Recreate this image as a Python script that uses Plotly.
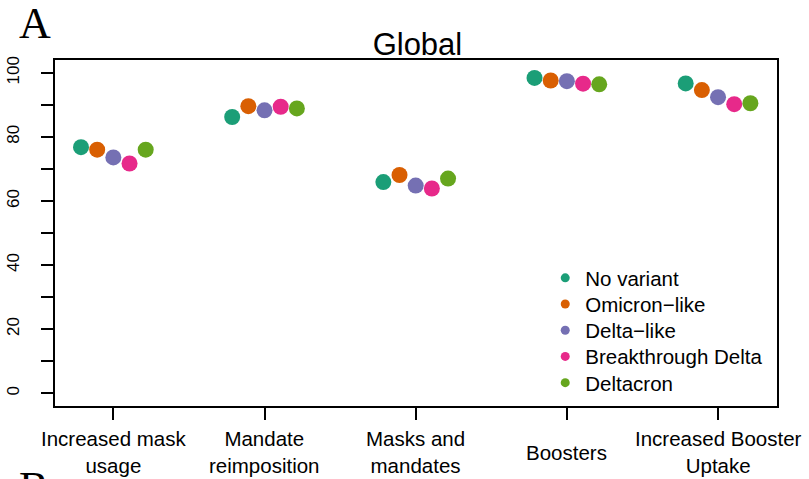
import plotly.graph_objects as go

categories = ["Increased mask<br>usage", "Mandate<br>reimposition", "Masks and<br>mandates",
              "Boosters", "Increased Booster<br>Uptake"]
series_names = ["No variant", "Omicron\u2212like", "Delta\u2212like", "Breakthrough Delta", "Deltacron"]
colors = ["#1B9E77", "#D95F02", "#7570B3", "#E7298A", "#66A61E"]

no_variant = [76.8, 86.2, 65.9, 98.4, 96.7]
omicron_like = [76.0, 89.6, 68.1, 97.6, 94.6]
delta_like = [73.6, 88.3, 64.8, 97.4, 92.4]
breakthrough_delta = [71.7, 89.4, 63.9, 96.6, 90.2]
deltacron = [76.0, 88.9, 67.0, 96.4, 90.5]
series_values = [no_variant, omicron_like, delta_like, breakthrough_delta, deltacron]

y_ticks = list(range(0, 101, 10))
y_ticklabels = [str(v) if v % 20 == 0 else "" for v in y_ticks]

dodge = [-0.214, -0.107, 0.0, 0.107, 0.214]
positions = list(range(1, len(categories) + 1))

FONT = "Liberation Sans, Arial, sans-serif"
SERIF = "Liberation Serif, Times New Roman, serif"

fig = go.Figure()
legend_ids = ["legend", "legend2", "legend3", "legend4", "legend5"]
for name, vals, col, off, lid in zip(series_names, series_values, colors, dodge, legend_ids):
    fig.add_trace(go.Scatter(
        x=[p + off for p in positions], y=vals, mode="markers",
        marker=dict(size=16, color=col, line=dict(width=0)),
        name=name, showlegend=False, hoverinfo="y"))
    fig.add_trace(go.Scatter(
        x=[None], y=[None], mode="markers",
        marker=dict(size=9, color=col), name=name, showlegend=True, legend=lid))

for p, lab in zip(positions, categories):
    fig.add_annotation(x=p, xref="x", y=-0.133, yref="paper", text=lab,
                       showarrow=False, xanchor="center", yanchor="middle",
                       font=dict(family=FONT, size=20.5, color="black"))

fig.add_annotation(x=-0.053, xref="paper", y=1.106, yref="paper", text="A",
                   showarrow=False, xanchor="left", yanchor="middle",
                   font=dict(family=SERIF, size=44, color="black"))
fig.add_annotation(x=-0.053, xref="paper", y=-0.235, yref="paper", text="B",
                   showarrow=False, xanchor="left", yanchor="middle",
                   font=dict(family=SERIF, size=44, color="black"))

legend_style = dict(x=0.679, xanchor="left", yanchor="middle",
                    font=dict(family=FONT, size=20.5, color="black"),
                    bgcolor="rgba(0,0,0,0)", borderwidth=0)
legend_rows_px = [278, 304.2, 330.4, 356.6, 382.8]
legend_layout = {lid: dict(legend_style, y=(406 - py) / 346.0)
                 for lid, py in zip(legend_ids, legend_rows_px)}

fig.update_layout(
    width=809, height=479,
    margin=dict(l=55, r=32, t=60, b=73, autoexpand=False),
    paper_bgcolor="white", plot_bgcolor="white",
    title=dict(text="Global", x=0.516, xanchor="center", y=0.908, yanchor="middle",
               yref="container", font=dict(family=FONT, size=31, color="black")),
    font=dict(family=FONT, color="black"),
    xaxis=dict(range=[0.614, 5.39], tickmode="array", tickvals=positions,
               showticklabels=False, ticks="outside", ticklen=12, tickwidth=1.5,
               tickcolor="black", showline=True, linecolor="black", linewidth=1.5,
               mirror=True, showgrid=False, zeroline=False),
    yaxis=dict(range=[-4, 104], tickmode="array", tickvals=y_ticks, ticktext=y_ticklabels,
               ticks="outside", ticklen=12, tickwidth=1.5, tickcolor="black",
               tickangle=-90, tickfont=dict(family=FONT, size=17, color="black"),
               ticklabelstandoff=15,
               showline=True, linecolor="black", linewidth=1.5, mirror=True,
               showgrid=False, zeroline=False),
    **legend_layout,
)

fig.write_html("out.html", config={"displayModeBar": False},
               post_script="document.body.style.margin='0px';document.body.style.overflow='hidden';")
